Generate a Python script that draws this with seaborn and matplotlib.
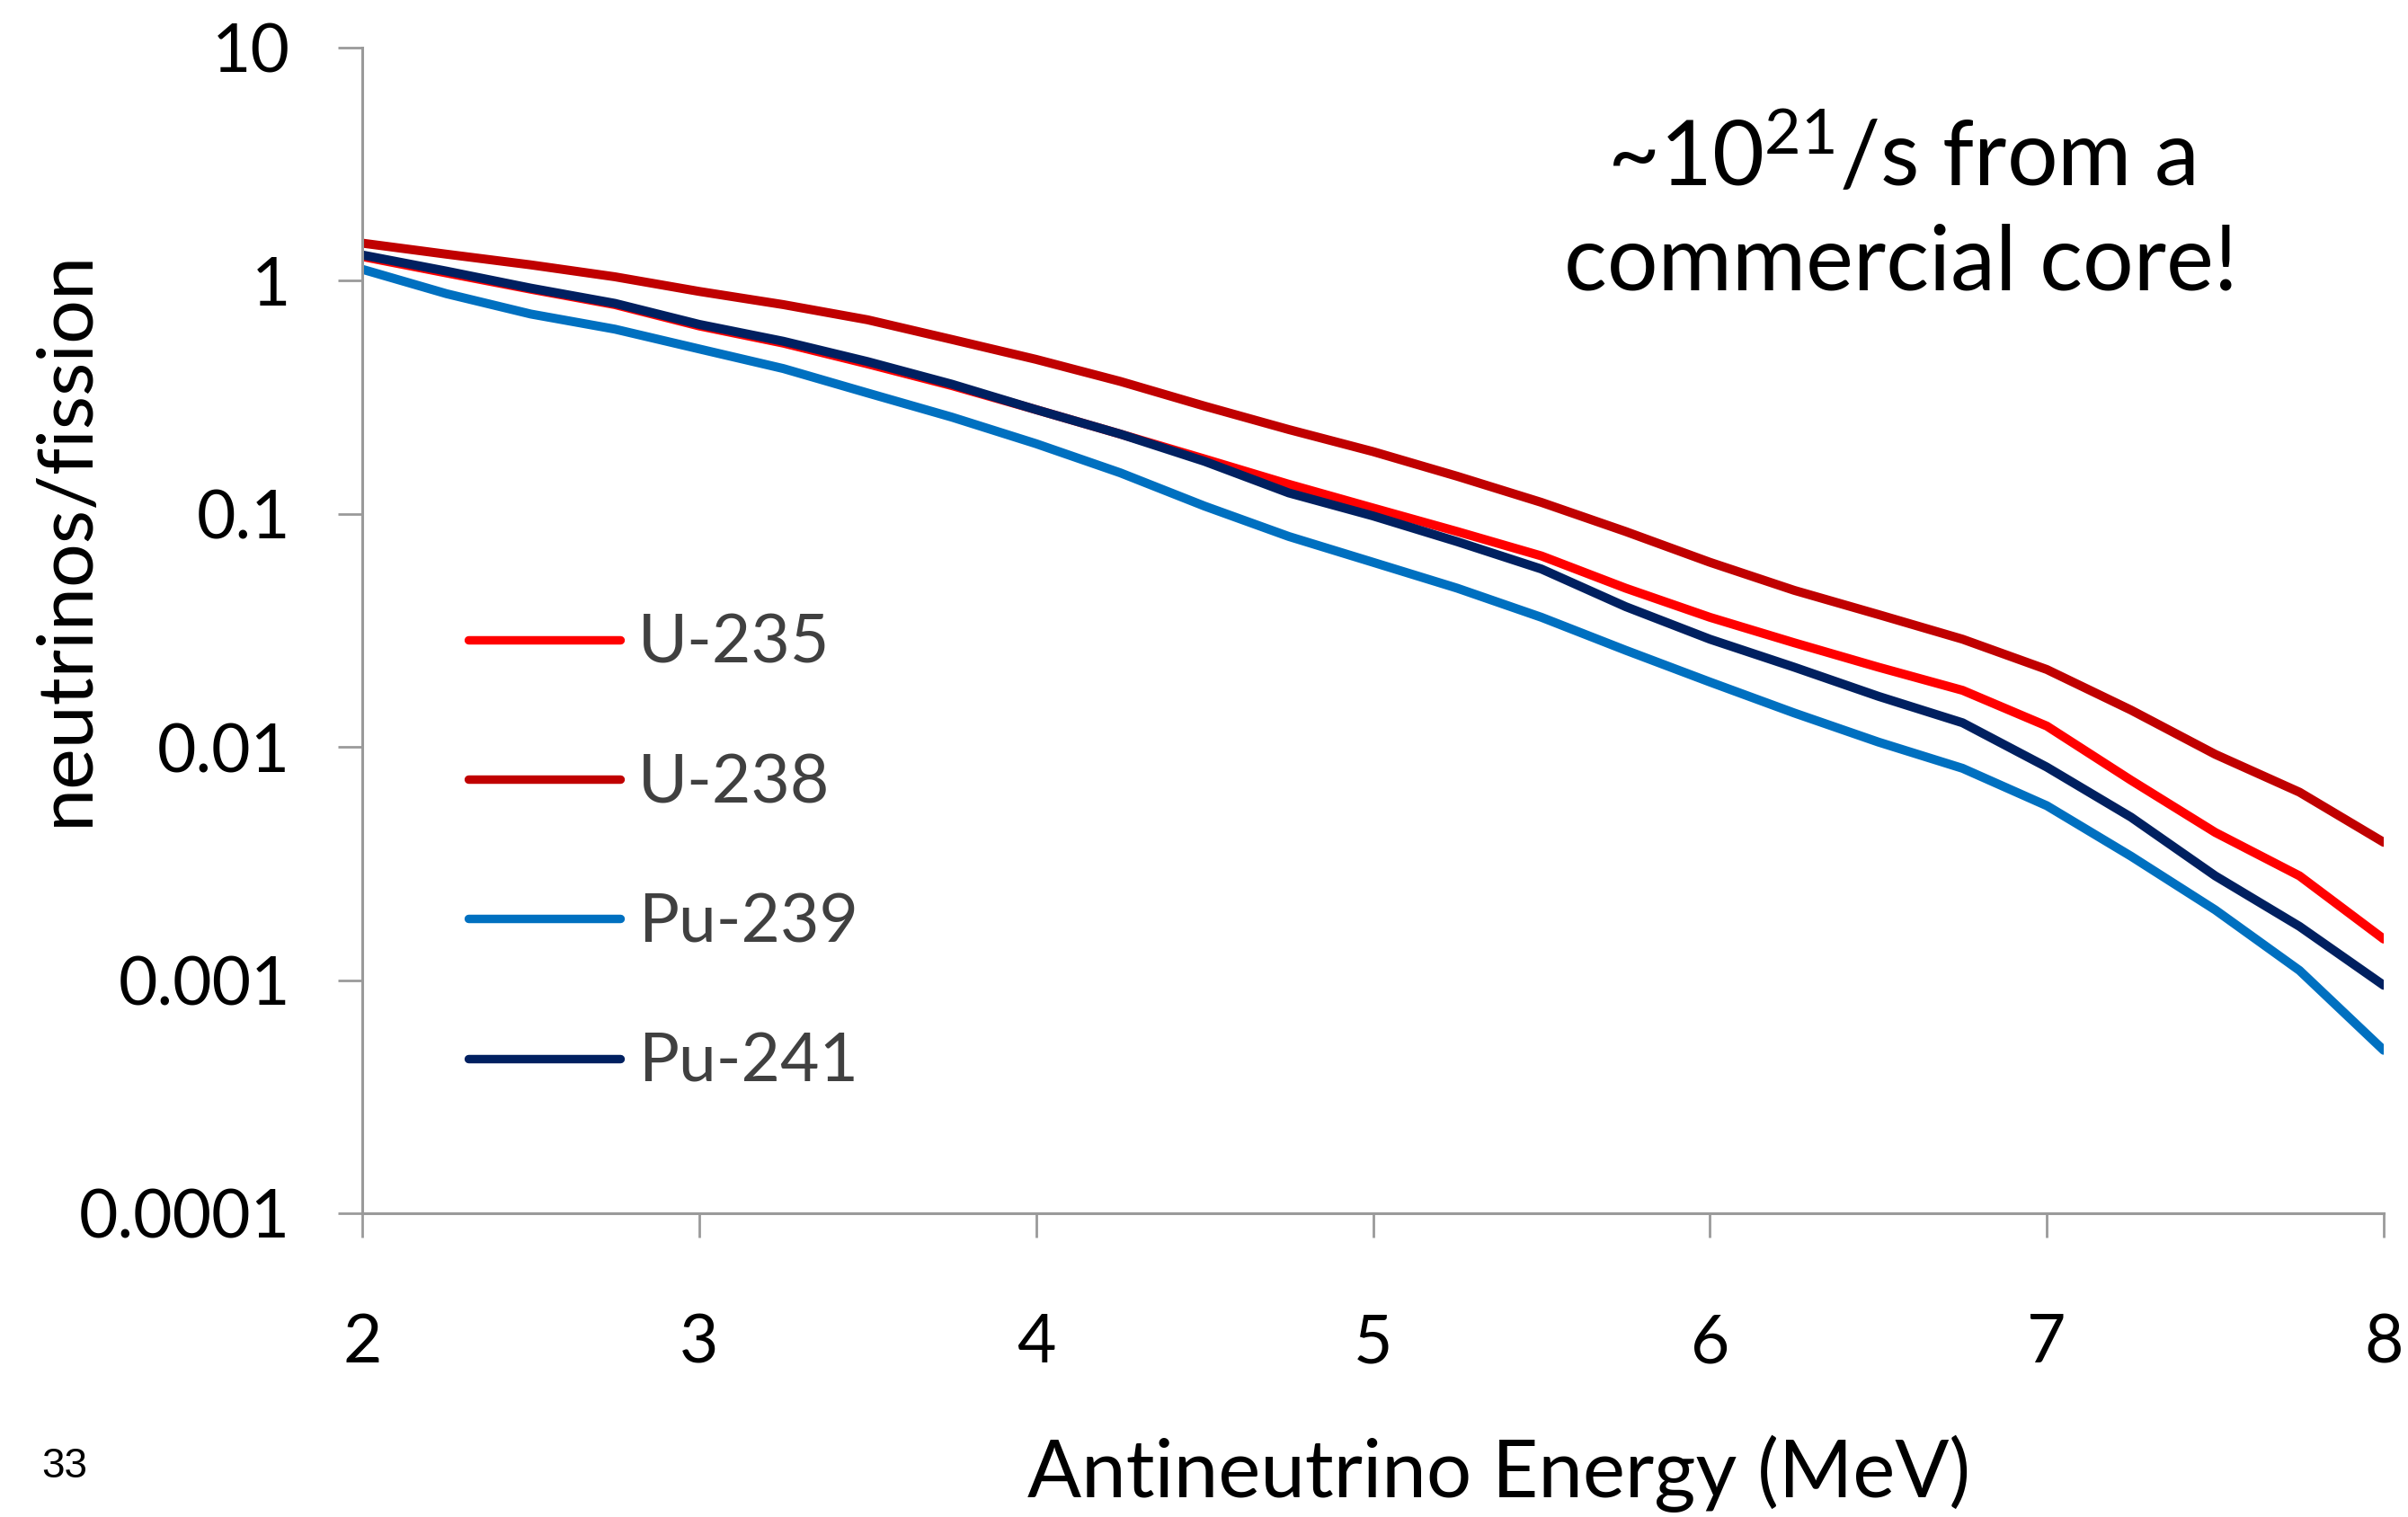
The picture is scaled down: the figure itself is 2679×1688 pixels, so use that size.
import numpy as np
import pandas as pd
import matplotlib
matplotlib.use("Agg")
import matplotlib.pyplot as plt
from matplotlib.ticker import FixedLocator, FixedFormatter, NullLocator
import seaborn as sns

# ---------------- data ----------------
energy = [2.0, 2.25, 2.5, 2.75, 3.0, 3.25, 3.5, 3.75, 4.0, 4.25, 4.5, 4.75,
          5.0, 5.25, 5.5, 5.75, 6.0, 6.25, 6.5, 6.75, 7.0, 7.25, 7.5, 7.75, 8.0]

u235 = [1.27, 1.08, 0.92, 0.79, 0.64, 0.54, 0.44, 0.355, 0.28, 0.22, 0.172, 0.134,
        0.106, 0.084, 0.066, 0.048, 0.036, 0.028, 0.022, 0.0175, 0.0123, 0.0072,
        0.0043, 0.0028, 0.0015]
u238 = [1.45, 1.30, 1.17, 1.04, 0.90, 0.79, 0.68, 0.56, 0.46, 0.37, 0.29, 0.23,
        0.185, 0.145, 0.112, 0.084, 0.062, 0.047, 0.037, 0.029, 0.0215, 0.0144,
        0.0093, 0.0064, 0.0039]
pu239 = [1.12, 0.88, 0.72, 0.62, 0.51, 0.42, 0.33, 0.26, 0.20, 0.15, 0.108, 0.080,
         0.062, 0.048, 0.036, 0.026, 0.019, 0.014, 0.0105, 0.0081, 0.0056, 0.0034,
         0.0020, 0.0011, 0.0005]
pu241 = [1.29, 1.10, 0.93, 0.80, 0.65, 0.55, 0.45, 0.36, 0.28, 0.22, 0.168, 0.123,
         0.098, 0.076, 0.058, 0.040, 0.029, 0.022, 0.0165, 0.0127, 0.0082, 0.0050,
         0.0028, 0.0017, 0.00095]

series_names = ["U-235", "U-238", "Pu-239", "Pu-241"]
series_colors = ["#FF0000", "#C00000", "#0070C0", "#002060"]

x_ticks = [2, 3, 4, 5, 6, 7, 8]
y_ticks = [0.0001, 0.001, 0.01, 0.1, 1, 10]
y_tick_labels = ["0.0001", "0.001", "0.01", "0.1", "1", "10"]

x_label = "Antineutrino Energy (MeV)"
y_label = "neutrinos/fission"
note_line1 = r"~10$^{21}$/s from a"
note_line2 = "commercial core!"
page_number = "33"

# ---------------- build table ----------------
frames = []
for name, vals in zip(series_names, [u235, u238, pu239, pu241]):
    frames.append(pd.DataFrame({"energy": energy, "value": vals, "isotope": name}))
df = pd.concat(frames, ignore_index=True)

# ---------------- style ----------------
sns.set_theme(style="white")
plt.rcParams["font.family"] = ["Lato", "DejaVu Sans"]
plt.rcParams["mathtext.default"] = "regular"

W, H = 2679, 1688
DPI = 100
fig = plt.figure(figsize=(W / DPI, H / DPI), dpi=DPI, facecolor="white")
ax = fig.add_axes([403 / W, 1 - 1350 / H, (2652 - 403) / W, (1350 - 53) / H])
ax.set_facecolor("white")

sns.lineplot(data=df, x="energy", y="value", hue="isotope",
             hue_order=series_names, palette=series_colors,
             linewidth=7.2, ax=ax, legend=True, sort=False,
             solid_capstyle="round", solid_joinstyle="round")

ax.set_yscale("log")
ax.set_xlim(2, 8)
ax.set_ylim(1e-4, 10)

ax.xaxis.set_major_locator(FixedLocator(x_ticks))
ax.xaxis.set_minor_locator(NullLocator())
ax.yaxis.set_major_locator(FixedLocator(y_ticks))
ax.yaxis.set_major_formatter(FixedFormatter(y_tick_labels))
ax.yaxis.set_minor_locator(NullLocator())

for s in ["top", "right"]:
    ax.spines[s].set_visible(False)
for s in ["left", "bottom"]:
    ax.spines[s].set_color("#9a9a9a")
    ax.spines[s].set_linewidth(2.2)

ax.tick_params(axis="both", which="major", direction="out", length=19.5,
               width=2.0, color="#9a9a9a", labelcolor="black")
ax.tick_params(axis="y", labelsize=54, pad=38)
ax.tick_params(axis="x", labelsize=54, pad=60, bottom=True)
ax.tick_params(axis="y", left=True)

ax.set_xlabel("")
ax.set_ylabel("")
fig.text(1668 / W, 1 - 1640 / H, x_label, fontsize=64, ha="center", va="center",
         color="black")
fig.text(74 / W, 1 - 598 / H, y_label, fontsize=62, ha="center", va="center",
         rotation=90, color="black")

# annotation
fig.text(2115 / W, 1 - 176 / H, note_line1, fontsize=72, ha="center", va="center",
         color="black")
fig.text(2115 / W, 1 - 294 / H, note_line2, fontsize=72, ha="center", va="center",
         color="black")

fig.text(72 / W, 1 - 1632 / H, page_number, fontsize=33, ha="center", va="center",
         color="black", family=["Liberation Sans", "DejaVu Sans"])

# legend
handles, labels = ax.get_legend_handles_labels()
for h in handles:
    h.set_linewidth(6.8)
    h.set_solid_capstyle("round")
leg = ax.legend(handles, labels, loc="upper left",
                bbox_to_anchor=(521 / W, 1 - 682 / H), bbox_transform=fig.transFigure,
                frameon=False, fontsize=54, handlelength=2.25, handletextpad=0.27,
                labelspacing=1.15, borderpad=0, borderaxespad=0)
for t in leg.get_texts():
    t.set_color("#404040")

fig.savefig("out.png", dpi=DPI, facecolor="white")
